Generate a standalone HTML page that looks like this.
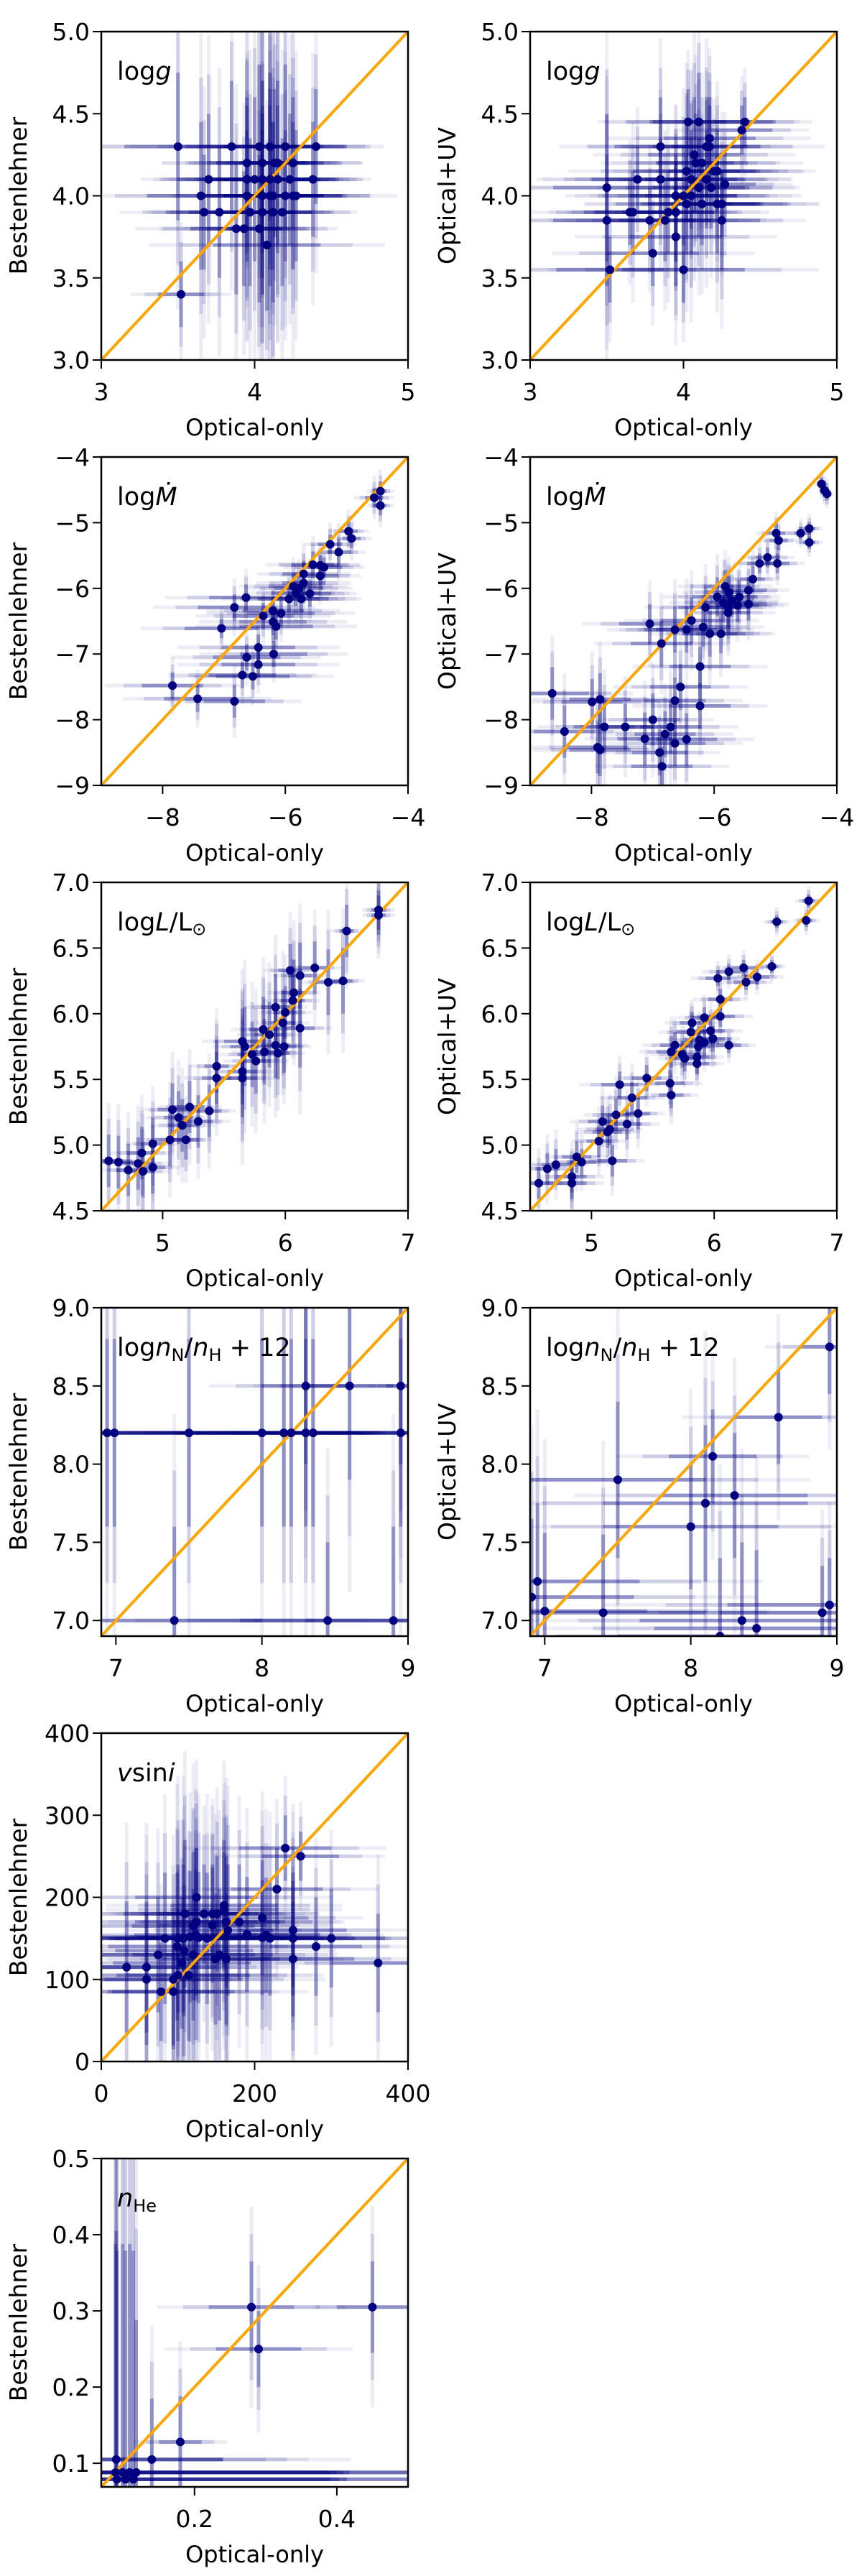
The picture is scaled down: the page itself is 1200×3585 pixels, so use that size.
<!DOCTYPE html>
<html><head><meta charset="utf-8"><style>
html,body{margin:0;padding:0;background:#fff;overflow:hidden;}
svg{display:block;font-family:"DejaVu Sans","Liberation Sans",sans-serif;}
</style></head><body>
<svg id="fig" width="1200" height="3585" viewBox="0 0 1200 3585" xmlns="http://www.w3.org/2000/svg"></svg>
<script>
// ---- data: panel 1 logg (Bestenlehner vs Optical-only)
const p1X=[3.5,3.85,4.03,4.1,4.2,4.4,3.95,4.05,4.13,4.15,4.25,3.7,3.95,4.0,4.05,4.1,4.15,4.23,4.38,3.65,3.95,4.05,4.1,4.12,4.2,4.25,4.27,3.67,3.77,3.97,4.05,4.12,4.18,3.88,3.93,4.03,4.08,3.52];
const p1Y=[4.3,4.3,4.3,4.3,4.3,4.3,4.2,4.2,4.2,4.2,4.2,4.1,4.1,4.1,4.1,4.1,4.1,4.1,4.1,4.0,4.0,4.0,4.0,4.0,4.0,4.0,4.0,3.9,3.9,3.9,3.9,3.9,3.9,3.8,3.8,3.8,3.7,3.4];
const p1EX=[0.35,0.3,0.25,0.3,0.25,0.2,0.25,0.3,0.2,0.25,0.2,0.2,0.25,0.3,0.2,0.3,0.25,0.2,0.15,0.35,0.3,0.25,0.3,0.2,0.25,0.2,0.3,0.25,0.2,0.3,0.2,0.25,0.2,0.3,0.25,0.2,0.35,0.15];
const p1EY=[0.45,0.4,0.5,0.45,0.5,0.35,0.4,0.5,0.45,0.5,0.4,0.4,0.45,0.5,0.45,0.55,0.45,0.4,0.35,0.45,0.4,0.5,0.55,0.45,0.4,0.45,0.4,0.35,0.4,0.45,0.5,0.55,0.45,0.4,0.35,0.45,0.4,0.2];
// panel 2 logg (Optical+UV vs Optical-only)
const p2X=[4.03,4.1,4.4,4.38,4.17,4.15,4.17,3.85,4.07,4.08,4.12,4.02,4.2,4.22,3.7,3.85,4.05,4.15,3.5,4.1,4.18,4.27,3.95,4.0,4.05,4.02,4.12,4.22,4.25,3.65,3.67,3.9,3.95,3.5,3.78,3.88,4.25,3.95,3.8,3.52,4.0];
const p2Y=[4.45,4.45,4.45,4.4,4.35,4.3,4.3,4.3,4.25,4.2,4.2,4.15,4.15,4.15,4.1,4.1,4.1,4.1,4.05,4.05,4.05,4.07,4.0,4.0,4.0,3.95,3.95,3.95,3.95,3.9,3.9,3.9,3.9,3.85,3.85,3.85,3.85,3.75,3.65,3.55,3.55];
const p2EX=[0.25,0.3,0.2,0.2,0.3,0.35,0.25,0.3,0.3,0.25,0.3,0.35,0.3,0.25,0.3,0.35,0.3,0.25,0.35,0.3,0.25,0.2,0.3,0.35,0.3,0.3,0.35,0.3,0.25,0.3,0.25,0.3,0.25,0.35,0.3,0.3,0.25,0.3,0.3,0.35,0.4];
const p2EY=[0.2,0.3,0.15,0.15,0.25,0.3,0.25,0.3,0.35,0.3,0.25,0.3,0.2,0.25,0.2,0.25,0.3,0.3,0.45,0.3,0.25,0.2,0.25,0.3,0.35,0.3,0.25,0.3,0.2,0.2,0.25,0.25,0.3,0.4,0.2,0.25,0.3,0.3,0.2,0.2,0.2];
// panel 3 log Mdot (Bestenlehner)
const p3X=[-4.45,-4.45,-4.55,-4.97,-4.92,-5.27,-5.13,-5.55,-5.43,-5.37,-5.7,-5.43,-5.7,-5.87,-5.78,-5.83,-5.6,-5.74,-5.94,-6.64,-6.83,-6.2,-6.07,-6.36,-6.2,-6.15,-7.04,-6.44,-6.19,-6.63,-6.44,-6.7,-6.53,-7.84,-7.43,-6.83];
const p3Y=[-4.52,-4.74,-4.62,-5.13,-5.24,-5.33,-5.45,-5.64,-5.65,-5.68,-5.78,-5.81,-5.92,-5.97,-6.0,-6.07,-6.08,-6.16,-6.16,-6.14,-6.29,-6.34,-6.38,-6.42,-6.51,-6.58,-6.61,-6.9,-7.0,-7.05,-7.16,-7.32,-7.34,-7.48,-7.68,-7.72];
const p3EX=[0.1,0.1,0.15,0.15,0.15,0.2,0.2,0.35,0.3,0.3,0.35,0.3,0.35,0.4,0.4,0.4,0.35,0.45,0.5,0.6,0.6,0.5,0.55,0.5,0.55,0.6,0.6,0.6,0.55,0.55,0.6,0.55,0.6,0.5,0.55,0.5];
const p3EY=[0.15,0.15,0.15,0.15,0.15,0.15,0.2,0.2,0.15,0.15,0.2,0.2,0.2,0.2,0.2,0.2,0.2,0.2,0.2,0.2,0.2,0.2,0.2,0.2,0.2,0.2,0.15,0.2,0.2,0.2,0.2,0.2,0.2,0.2,0.2,0.25];
// panel 4 log Mdot (Optical+UV)
const p4X=[-4.25,-4.2,-4.16,-4.59,-4.45,-4.45,-4.99,-4.95,-5.13,-5.26,-4.97,-5.37,-5.44,-5.82,-5.76,-5.95,-5.59,-5.71,-5.85,-5.44,-5.62,-5.77,-6.14,-5.77,-6.37,-7.05,-6.64,-6.45,-6.18,-6.07,-5.89,-6.86,-6.23,-6.55,-8.64,-7.99,-7.86,-6.64,-6.23,-7.0,-7.79,-7.45,-6.71,-8.44,-6.8,-7.13,-6.45,-6.64,-7.9,-7.86,-6.89,-6.85];
const p4Y=[-4.41,-4.51,-4.56,-5.16,-5.09,-5.3,-5.16,-5.27,-5.53,-5.62,-5.62,-5.86,-6.03,-5.97,-6.06,-6.13,-6.13,-6.19,-6.22,-6.24,-6.26,-6.29,-6.29,-6.37,-6.49,-6.54,-6.63,-6.63,-6.59,-6.69,-6.69,-6.84,-7.19,-7.5,-7.6,-7.73,-7.69,-7.71,-7.79,-8.0,-8.11,-8.11,-8.11,-8.18,-8.22,-8.29,-8.3,-8.36,-8.42,-8.46,-8.5,-8.71];
const p4EX=[0.05,0.05,0.05,0.1,0.1,0.1,0.15,0.15,0.2,0.2,0.2,0.2,0.3,0.35,0.35,0.4,0.3,0.35,0.4,0.3,0.35,0.35,0.45,0.35,0.5,0.5,0.5,0.5,0.45,0.45,0.4,0.5,0.5,0.5,0.6,0.5,0.5,0.5,0.5,0.45,0.5,0.45,0.5,0.5,0.5,0.45,0.5,0.5,0.5,0.5,0.45,0.5];
const p4EY=[0.1,0.1,0.1,0.1,0.1,0.1,0.15,0.15,0.15,0.15,0.15,0.2,0.2,0.25,0.25,0.3,0.25,0.25,0.3,0.25,0.25,0.3,0.3,0.3,0.35,0.3,0.35,0.35,0.3,0.35,0.3,0.35,0.3,0.35,0.4,0.35,0.4,0.35,0.35,0.4,0.4,0.35,0.4,0.4,0.35,0.4,0.4,0.35,0.4,0.4,0.35,0.3];
// panel 5 log L (Bestenlehner)
const p5X=[6.76,6.76,6.5,6.04,6.24,6.12,6.35,6.47,6.07,6.06,5.92,6.0,5.98,6.12,5.82,5.87,5.65,5.67,5.73,5.76,5.83,5.92,5.99,5.94,5.44,5.44,5.65,5.65,5.38,5.22,5.08,5.13,5.16,5.29,5.19,5.06,4.92,4.83,4.8,4.92,4.84,4.72,4.64,4.56];
const p5Y=[6.75,6.79,6.63,6.33,6.35,6.29,6.24,6.25,6.16,6.1,6.05,6.01,5.93,5.89,5.88,5.84,5.79,5.75,5.69,5.64,5.71,5.76,5.75,5.7,5.6,5.51,5.56,5.51,5.26,5.29,5.27,5.21,5.15,5.18,5.04,5.04,5.01,4.94,4.86,4.83,4.8,4.81,4.87,4.88];
const p5EX=[0.06,0.06,0.06,0.1,0.1,0.1,0.1,0.08,0.1,0.1,0.12,0.1,0.1,0.12,0.12,0.12,0.15,0.12,0.12,0.12,0.12,0.12,0.1,0.1,0.1,0.12,0.12,0.12,0.1,0.12,0.12,0.12,0.12,0.12,0.1,0.12,0.1,0.12,0.12,0.1,0.1,0.1,0.12,0.12];
const p5EY=[0.15,0.15,0.2,0.2,0.2,0.25,0.25,0.25,0.25,0.2,0.25,0.2,0.25,0.3,0.25,0.25,0.25,0.3,0.25,0.25,0.25,0.25,0.2,0.2,0.2,0.2,0.25,0.3,0.2,0.2,0.2,0.2,0.2,0.2,0.15,0.2,0.2,0.2,0.2,0.2,0.2,0.2,0.2,0.2];
// panel 6 log L (Optical+UV)
const p6X=[6.77,6.75,6.51,6.47,6.24,6.12,6.03,6.35,6.26,6.05,6.05,5.92,5.82,5.81,5.97,5.99,5.88,5.92,5.87,6.12,5.68,5.65,5.74,5.76,5.86,5.86,5.45,5.23,5.64,5.65,5.33,5.38,5.2,5.09,5.29,5.15,5.13,5.06,5.17,4.92,4.88,4.84,4.84,4.71,4.64,4.57];
const p6Y=[6.86,6.71,6.7,6.36,6.35,6.32,6.27,6.28,6.24,6.11,5.98,5.97,5.93,5.86,5.87,5.81,5.8,5.78,5.75,5.76,5.76,5.71,5.69,5.66,5.67,5.62,5.51,5.46,5.47,5.38,5.36,5.24,5.23,5.18,5.16,5.12,5.1,5.03,4.88,4.87,4.91,4.76,4.71,4.85,4.82,4.71];
const p6EX=[0.05,0.05,0.05,0.05,0.1,0.1,0.1,0.1,0.1,0.1,0.12,0.1,0.1,0.12,0.12,0.1,0.12,0.12,0.1,0.1,0.12,0.12,0.12,0.1,0.1,0.1,0.12,0.15,0.12,0.1,0.12,0.1,0.12,0.12,0.12,0.12,0.12,0.1,0.12,0.12,0.12,0.12,0.12,0.12,0.1,0.12];
const p6EY=[0.05,0.05,0.05,0.05,0.06,0.06,0.06,0.06,0.06,0.08,0.08,0.08,0.08,0.1,0.1,0.1,0.1,0.1,0.1,0.06,0.1,0.12,0.1,0.1,0.08,0.08,0.1,0.1,0.1,0.1,0.12,0.12,0.12,0.12,0.12,0.12,0.12,0.12,0.12,0.1,0.12,0.12,0.12,0.12,0.12,0.12];
// panel 7 log nN/nH + 12 (Bestenlehner)
const p7X=[6.94,6.99,7.5,8.0,8.15,8.2,8.3,8.35,8.95,8.3,8.6,8.95,7.4,8.45,8.9];
const p7Y=[8.2,8.2,8.2,8.2,8.2,8.2,8.2,8.2,8.2,8.5,8.5,8.5,7.0,7.0,7.0];
const p7EX=[0.6,0.6,0.7,0.6,0.6,0.5,0.5,0.5,0.6,0.3,0.3,0.1,0.6,0.6,0.6];
const p7EY=[0.6,0.6,0.6,0.6,0.6,0.6,0.6,0.6,0.6,0.5,0.6,0.5,0.6,0.5,0.6];
// panel 8 log nN/nH + 12 (Optical+UV)
const p8X=[8.95,8.6,8.15,7.5,8.3,8.1,8.0,6.95,6.91,7.0,7.4,8.9,8.95,8.35,8.45,8.2];
const p8Y=[8.75,8.3,8.05,7.9,7.8,7.75,7.6,7.25,7.15,7.06,7.05,7.05,7.1,7.0,6.95,6.9];
const p8EX=[0.2,0.3,0.3,0.6,0.5,0.7,0.6,0.7,0.7,0.7,0.7,0.7,0.7,0.7,0.7,0.7];
const p8EY=[0.3,0.3,0.3,0.5,0.4,0.5,0.4,0.5,0.5,0.5,0.5,0.3,0.3,0.5,0.5,0.5];
// panel 9 v sin i (Bestenlehner)
const p9X=[240,260,229,124,160,160,109,134,145,151,210,180,124,163,120,145,165,250,190,123,83,100,107,116,127,138,210,215,220,250,300,280,99,108,74,120,154,149,163,250,105,361,33,59,59,94,100,114,78,94];
const p9Y=[260,250,210,200,190,185,180,180,180,180,175,170,170,170,165,166,160,160,155,154,150,150,150,152,151,150,151,154,150,150,150,140,140,135,130,130,130,125,125,125,120,120,115,115,100,100,105,105,85,85];
const p9EX=[60,50,60,80,70,70,80,60,60,60,60,60,80,70,80,70,60,70,60,80,100,90,90,80,80,80,70,70,70,80,70,60,90,90,80,80,70,70,70,80,90,60,90,90,70,90,80,80,70,80];
const p9EY=[40,30,50,60,80,70,90,60,60,70,70,70,90,80,90,70,80,70,70,80,80,90,90,80,80,80,70,70,70,70,60,60,90,80,70,80,80,80,80,70,80,60,80,80,80,80,80,80,60,70];
// panel 10 n_He (Bestenlehner)
const p10X=[0.28,0.45,0.29,0.18,0.14,0.09,0.089,0.099,0.109,0.118,0.114,0.091,0.103];
const p10Y=[0.305,0.305,0.25,0.128,0.105,0.105,0.088,0.088,0.088,0.088,0.079,0.079,0.079];
const p10EX=[0.06,0.05,0.06,0.03,0.1,0.15,0.3,0.3,0.3,0.3,0.3,0.3,0.3];
const p10EY=[0.06,0.06,0.05,0.06,0.08,0.3,0.3,0.3,0.3,0.2,0.3,0.3,0.3];
// tick labels
const ticksLogg=[3,4,5], yticksLogg=[3.0,3.5,4.0,4.5,5.0];
const ticksMdot=[-8,-6,-4], yticksMdot=[-9,-8,-7,-6,-5,-4];
const ticksL=[5,6,7], yticksL=[4.5,5.0,5.5,6.0,6.5,7.0];
const ticksN=[7,8,9], yticksN=[7.0,7.5,8.0,8.5,9.0];
const ticksV=[0,200,400], yticksV=[0,100,200,300,400];
const ticksHe=[0.2,0.4], yticksHe=[0.1,0.2,0.3,0.4,0.5];

const NS="http://www.w3.org/2000/svg";
const svg=document.getElementById('fig');
function mk(tag,attrs,parent){const e=document.createElementNS(NS,tag);for(const k in attrs)e.setAttribute(k,attrs[k]);(parent||svg).appendChild(e);return e;}
const W=427,H=457;
function fmt(v,dec){let s=v.toFixed(dec);return s.replace('-','\u2212');}

const panels=[
 {id:'logg-b',l:141,t:44,x0:3,x1:5,y0:3,y1:5,X:p1X,Y:p1Y,EX:p1EX,EY:p1EY,xt:ticksLogg,yt:yticksLogg,xd:0,yd:1,yl:'Bestenlehner',lab:'logg'},
 {id:'logg-uv',l:738,t:44,x0:3,x1:5,y0:3,y1:5,X:p2X,Y:p2Y,EX:p2EX,EY:p2EY,xt:ticksLogg,yt:yticksLogg,xd:0,yd:1,yl:'Optical+UV',lab:'logg'},
 {id:'mdot-b',l:141,t:636,x0:-9,x1:-4,y0:-9,y1:-4,X:p3X,Y:p3Y,EX:p3EX,EY:p3EY,xt:ticksMdot,yt:yticksMdot,xd:0,yd:0,yl:'Bestenlehner',lab:'mdot'},
 {id:'mdot-uv',l:738,t:636,x0:-9,x1:-4,y0:-9,y1:-4,X:p4X,Y:p4Y,EX:p4EX,EY:p4EY,xt:ticksMdot,yt:yticksMdot,xd:0,yd:0,yl:'Optical+UV',lab:'mdot'},
 {id:'lum-b',l:141,t:1228,x0:4.5,x1:7,y0:4.5,y1:7,X:p5X,Y:p5Y,EX:p5EX,EY:p5EY,xt:ticksL,yt:yticksL,xd:0,yd:1,yl:'Bestenlehner',lab:'lum'},
 {id:'lum-uv',l:738,t:1228,x0:4.5,x1:7,y0:4.5,y1:7,X:p6X,Y:p6Y,EX:p6EX,EY:p6EY,xt:ticksL,yt:yticksL,xd:0,yd:1,yl:'Optical+UV',lab:'lum'},
 {id:'nitrogen-b',l:141,t:1820,x0:6.9,x1:9,y0:6.9,y1:9,X:p7X,Y:p7Y,EX:p7EX,EY:p7EY,xt:ticksN,yt:yticksN,xd:0,yd:1,yl:'Bestenlehner',lab:'nit'},
 {id:'nitrogen-uv',l:738,t:1820,x0:6.9,x1:9,y0:6.9,y1:9,X:p8X,Y:p8Y,EX:p8EX,EY:p8EY,xt:ticksN,yt:yticksN,xd:0,yd:1,yl:'Optical+UV',lab:'nit'},
 {id:'vsini-b',l:141,t:2412,x0:0,x1:400,y0:0,y1:400,X:p9X,Y:p9Y,EX:p9EX,EY:p9EY,xt:ticksV,yt:yticksV,xd:0,yd:0,yl:'Bestenlehner',lab:'vsini'},
 {id:'helium-b',l:141,t:3004,x0:0.069,x1:0.5,y0:0.069,y1:0.5,X:p10X,Y:p10Y,EX:p10EX,EY:p10EY,xt:ticksHe,yt:yticksHe,xd:1,yd:1,yl:'Bestenlehner',lab:'he'}
];

function label(g,kind,x,y){
  const t=mk('text',{x:x,y:y,'font-size':35,fill:'#000'},g);
  
  
  const sp=(txt,o)=>{const s=mk('tspan',o||{},t);s.textContent=txt;return s;};
  if(kind==='logg'){sp('log');sp('g',{'font-style':'italic'});}
  else if(kind==='mdot'){sp('log');sp('\u1E40',{'font-style':'italic'});}
  else if(kind==='lum'){sp('log');sp('L',{'font-style':'italic'});sp('/L');sp('\u2299',{'font-size':24,dy:6});}
  else if(kind==='nit'){sp('log');sp('n',{'font-style':'italic'});sp('N',{'font-size':24,dy:7});sp('/',{dy:-7});sp('n',{'font-style':'italic'});sp('H',{'font-size':24,dy:7});sp(' + 12',{dy:-7});}
  else if(kind==='vsini'){sp('v',{'font-style':'italic'});sp('sin');sp('i',{'font-style':'italic'});}
  else if(kind==='he'){sp('n',{'font-style':'italic'});sp('He',{'font-size':24,dy:7});}
}

panels.forEach((p,pi)=>{
  const g=mk('g',{});
  
  
  const sx=v=>p.l+(v-p.x0)/(p.x1-p.x0)*W;
  const sy=v=>p.t+H-(v-p.y0)/(p.y1-p.y0)*H;
  const cid='clip'+pi;
  const cp=mk('clipPath',{id:cid},g);mk('rect',{x:p.l,y:p.t,width:W,height:H},cp);
  const inner=mk('g',{'clip-path':'url(#'+cid+')'},g);
  const tiers=[[2.2,0.07],[1.6,0.13],[1.0,0.3]];
  for(let i=0;i<p.X.length;i++){
    const eb=mk('g',{},inner);
    
    
    tiers.forEach(([m,a])=>{
      mk('line',{x1:sx(p.X[i]-m*p.EX[i]),x2:sx(p.X[i]+m*p.EX[i]),y1:sy(p.Y[i]),y2:sy(p.Y[i]),stroke:'#000080','stroke-opacity':a,'stroke-width':5},eb);
      mk('line',{x1:sx(p.X[i]),x2:sx(p.X[i]),y1:sy(p.Y[i]-m*p.EY[i]),y2:sy(p.Y[i]+m*p.EY[i]),stroke:'#000080','stroke-opacity':a,'stroke-width':5},eb);
    });
  }
  const one=mk('line',{x1:sx(p.x0),y1:sy(p.y0),x2:sx(p.x1),y2:sy(p.y1),stroke:'#FFA500','stroke-width':4},inner);
  
  
  for(let i=0;i<p.X.length;i++){
    const c=mk('circle',{cx:sx(p.X[i]),cy:sy(p.Y[i]),r:6,fill:'#000080'},inner);
    
    
  }
  const fr=mk('rect',{x:p.l,y:p.t,width:W,height:H,fill:'none',stroke:'#000','stroke-width':2.5},g);
  
  
  p.xt.forEach(v=>{
    const X=sx(v);
    mk('line',{x1:X,x2:X,y1:p.t+H,y2:p.t+H+12,stroke:'#000','stroke-width':2},g);
    const t=mk('text',{x:X,y:p.t+H+56,'text-anchor':'middle','font-size':33},g);
    
    
    t.textContent=fmt(v,p.xd);
  });
  p.yt.forEach(v=>{
    const Y=sy(v);
    mk('line',{x1:p.l-12,x2:p.l,y1:Y,y2:Y,stroke:'#000','stroke-width':2},g);
    const t=mk('text',{x:p.l-16,y:Y+12,'text-anchor':'end','font-size':33},g);
    
    
    t.textContent=fmt(v,p.yd);
  });
  const xl=mk('text',{x:p.l+W/2,y:p.t+H+105,'text-anchor':'middle','font-size':32},g);
  
  
  xl.textContent='Optical-only';
  const ycx=p.l-104, ycy=p.t+H/2;
  const yl=mk('text',{x:ycx,y:ycy,'text-anchor':'middle','font-size':33,transform:'rotate(-90 '+ycx+' '+ycy+')'},g);
  
  
  yl.textContent=p.yl;
  label(g,p.lab,p.l+22,p.t+67);
});
</script>
</body></html>
